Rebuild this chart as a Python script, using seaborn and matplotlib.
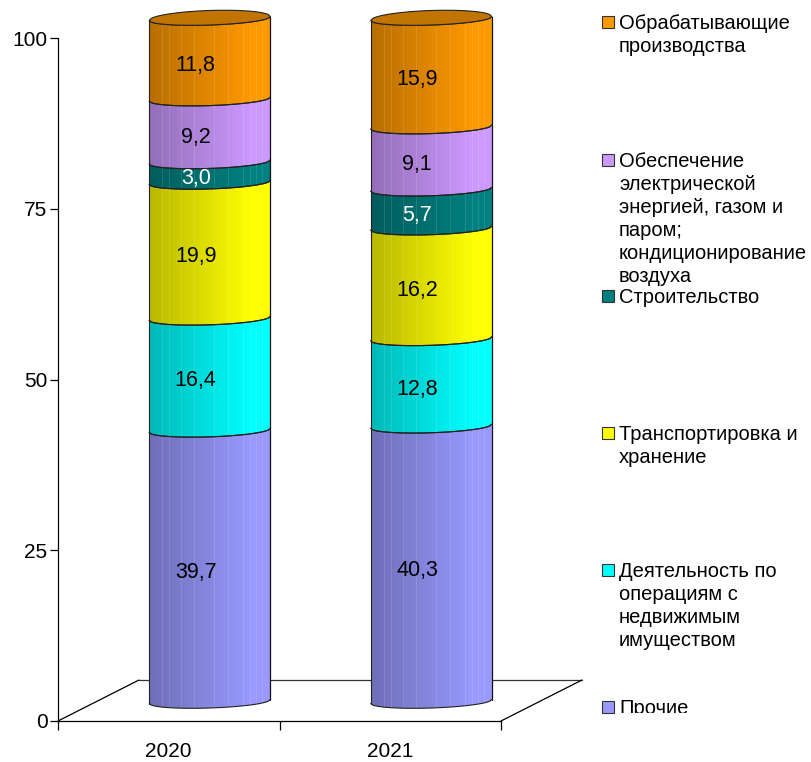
import numpy as np
import matplotlib
matplotlib.use("Agg")
import matplotlib.pyplot as plt
import seaborn as sns
from matplotlib.patches import Polygon, Rectangle
from matplotlib.path import Path
from matplotlib.transforms import Affine2D, Bbox, IdentityTransform

years = ["2020", "2021"]
prochie = [39.7, 40.3]
nedvizh = [16.4, 12.8]
transport = [19.9, 16.2]
stroit = [3.0, 5.7]
energy = [9.2, 9.1]
obrab = [11.8, 15.9]

series = [prochie, nedvizh, transport, stroit, energy, obrab]
colors = ["#9999FF", "#00FFFF", "#FFFF00", "#008080", "#CC99FF", "#FF9900"]
label_colors = ["black", "black", "black", "white", "black", "black"]

legend_labels = [
    "Обрабатывающие\nпроизводства",
    "Обеспечение\nэлектрической\nэнергией, газом и\nпаром;\nкондиционирование\nвоздуха",
    "Строительство",
    "Транспортировка и\nхранение",
    "Деятельность по\nоперациям с\nнедвижимым\nимуществом",
    "Прочие",
]
legend_colors = ["#FF9900", "#CC99FF", "#008080", "#FFFF00", "#00FFFF", "#9999FF"]
legend_y = [22, 160, 296, 433, 570, 707]

sns.set_theme(style="white")
plt.rcParams["font.family"] = ["Liberation Sans", "DejaVu Sans"]

W, H = 811, 762
fig = plt.figure(figsize=(W / 100, H / 100), dpi=100)
ax = fig.add_axes([58 / W, (H - 721) / H, 443 / W, 683 / H])
ax.patch.set_alpha(0)

BAR_W = 121 / 221.5
px_y = 100 / 683
bar_tr = ax.transData + Affine2D().translate(41, 19.5)
label_tr = ax.transData + Affine2D().translate(27, 13)
floor_tr = ax.transData + Affine2D().translate(81, 41)

# lighter facet lines of the cylinder, as fraction of its width
facets = [0.11, 0.17, 0.27, 0.38, 0.54, 0.66, 0.78, 0.84, 0.89, 0.94]


def shade_strip(color):
    rgb = np.array(matplotlib.colors.to_rgb(color))
    n = 121
    t = np.linspace(0, 1, n)
    k = 0.72 + 0.28 * np.clip(t / 0.85, 0, 1)
    strip = np.outer(k, rgb)
    for f in facets:
        i = int(f * n)
        strip[i] = strip[i] * 0.88 + 0.12
    return strip[np.newaxis, :, :]


def arc(cx, v, b=6.5, tilt=2.0, sign=1, n=60):
    u = np.linspace(-1, 1, n)
    down = sign * b * np.sqrt(1 - u**2) - u * tilt
    return np.column_stack([cx + u * BAR_W / 2, v - down * px_y])


bottoms = np.zeros(2)
for vals, col in zip(series, colors):
    n_before = len(ax.patches)
    sns.barplot(x=years, y=vals, bottom=bottoms, color=col, width=BAR_W,
                saturation=1, ax=ax, zorder=3)
    for p in ax.patches[n_before:]:
        x0, w = p.get_x(), p.get_width()
        y0, h = p.get_y(), p.get_height()
        cx = x0 + w / 2
        low, up = arc(cx, y0), arc(cx, y0 + h)
        verts = np.vstack([low, up[::-1], low[:1]])
        p.set_transform(bar_tr)
        p.set_linewidth(0)
        p.set_clip_box(fig.bbox)
        p.set_clip_path(Path(verts), bar_tr)
        im = ax.imshow(shade_strip(col), extent=(x0, x0 + w, y0 - 3, y0 + h + 3),
                       aspect="auto", interpolation="nearest", zorder=4)
        im.set_transform(bar_tr)
        im.set_clip_box(fig.bbox)
        im.set_clip_path(Path(verts), bar_tr)
        for line in (low, up):
            ax.plot(line[:, 0], line[:, 1], color="#222222", lw=0.8, transform=bar_tr,
                    zorder=5, clip_on=False)
        ax.plot([x0, x0], [low[0, 1], up[0, 1]], color="#222222", lw=0.8,
                transform=bar_tr, zorder=5, clip_on=False)
        ax.plot([x0 + w, x0 + w], [low[-1, 1], up[-1, 1]], color="#111111", lw=0.9,
                transform=bar_tr, zorder=5, clip_on=False)
    bottoms = bottoms + np.array(vals)

# top cap of the two cylinders
cap_rgb = np.array(matplotlib.colors.to_rgb(colors[-1])) * 0.76
for i in range(len(years)):
    front = arc(i, bottoms[i])
    back = arc(i, bottoms[i], b=8, sign=-1)
    ax.add_patch(Polygon(np.vstack([front, back[::-1]]), closed=True, facecolor=cap_rgb,
                         edgecolor="#222222", lw=0.8, transform=bar_tr,
                         zorder=6, clip_on=False))

# value labels
start = np.zeros(2)
for vals, lc in zip(series, label_colors):
    for i, v in enumerate(vals):
        ax.text(i, start[i] + v / 2, f"{v:.1f}".replace(".", ","), ha="center", va="center",
                fontsize=15.5, color=lc, transform=label_tr, zorder=7, clip_on=False)
    start = start + np.array(vals)

ax.set_xlim(-0.5, 1.5)
ax.set_ylim(0, 100)
ax.set_ylabel("")
ax.set_xlabel("")

# floor of the 3d box
ax.plot([-0.5, 1.5], [0, 0], color="#333333", lw=0.9, transform=floor_tr,
        zorder=1, clip_on=False)
for xp, yp in ax.transData.transform([(-0.5, 0), (1.5, 0)]):
    ax.plot([xp, xp + 81], [yp, yp + 41], color="black", lw=0.9,
            transform=IdentityTransform(), zorder=1, clip_on=False)

for s in ["top", "right"]:
    ax.spines[s].set_visible(False)
for s in ["left", "bottom"]:
    ax.spines[s].set_color("black")
    ax.spines[s].set_linewidth(0.9)

ax.set_yticks([0, 25, 50, 75, 100])
ax.tick_params(axis="y", left=True, length=6, width=0.9, color="black", labelsize=15,
               pad=1.5, labelcolor="black")
ax.set_xticks([-0.5, 0.5, 1.5], labels=[])
ax.set_xticks([0, 1], labels=years, minor=True)
ax.tick_params(axis="x", which="major", bottom=True, length=6.5, width=0.9, color="black")
ax.tick_params(axis="x", which="minor", bottom=False, length=0, labelsize=15, pad=15,
               labelcolor="black")

# legend: evenly spaced entries, the text hangs from the swatch line
for lab, col, yp in zip(legend_labels, legend_colors, legend_y):
    fig.add_artist(Rectangle((602 / W, 1 - (yp + 6) / H), 12 / W, 12 / H, facecolor=col,
                             edgecolor="#333333", lw=0.8, transform=fig.transFigure))
    t = fig.text(619 / W, 1 - (yp - 8) / H, lab, ha="left", va="top", fontsize=14.5,
                 color="black", linespacing=1.26)
    if lab == "Прочие":
        t.set_clip_on(True)
        t.set_clip_box(Bbox([[600, H - 713], [811, H - 690]]))

fig.savefig("out.png", dpi=100)
